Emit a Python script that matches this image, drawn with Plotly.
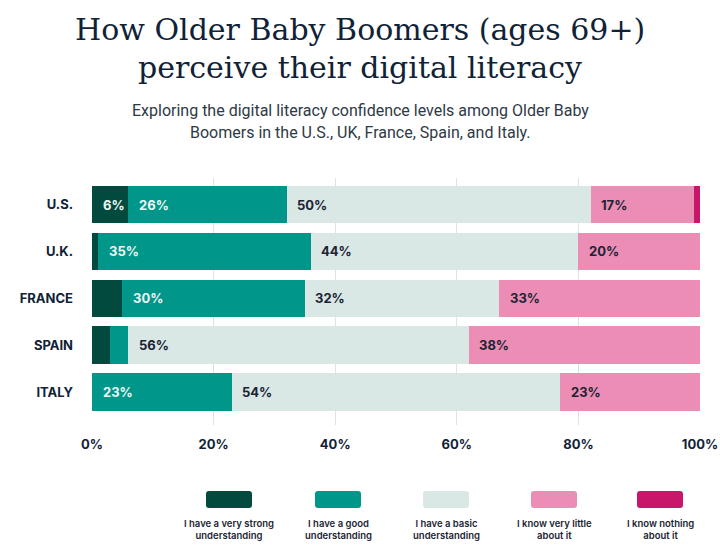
import plotly.graph_objects as go

countries = ["U.S.", "U.K.", "FRANCE", "SPAIN", "ITALY"]
series_names = [
    "I have a very strong<br>understanding",
    "I have a good<br>understanding",
    "I have a basic<br>understanding",
    "I know very little<br>about it",
    "I know nothing<br>about it",
]
very_strong = [6, 1, 5, 3, 0]
good = [26, 35, 30, 3, 23]
basic = [50, 44, 32, 56, 54]
very_little = [17, 20, 33, 38, 23]
nothing = [1, 0, 0, 0, 0]
tick_vals = [0, 20, 40, 60, 80, 100]
tick_text = ["0%", "20%", "40%", "60%", "80%", "100%"]

series = [very_strong, good, basic, very_little, nothing]
colors = ["#034a3e", "#00968a", "#d9e7e5", "#ec8db5", "#c8176a"]
label_colors = ["#eef6f4", "#eef6f4", "#1b2433", "#1b2433", "#ffffff"]

NAVY = "#0f2236"
SANS = "Inter"

W, H = 720, 551

fig = go.Figure()
for name, vals, col in zip(series_names, series, colors):
    fig.add_trace(go.Bar(
        y=countries, x=vals, name=name, orientation="h",
        marker=dict(color=col, line=dict(width=0)),
        width=0.8, showlegend=False, hoverinfo="x+y",
    ))

# page-pixel -> paper helpers (plot area 92..700 x, 178..425 y)
L, R, T, B = 92, 700, 178, 425
def px(x):
    return (x - L) / (R - L)
def py(y):
    return (B - y) / (B - T)

annotations = []
for si, vals in enumerate(series):
    for ci, v in enumerate(vals):
        start = sum(series[k][ci] for k in range(si))
        if v >= 6:
            annotations.append(dict(
                x=start + 1.4, y=countries[ci], xref="x", yref="y",
                text=f"{v}%", showarrow=False, xanchor="left", yanchor="middle",
                font=dict(family=SANS, size=13, color=label_colors[si], weight=700),
            ))

TITLE_FONT = dict(family="DejaVu Serif", size=30, color=NAVY)
annotations.append(dict(x=px(360), y=py(29), xref="paper", yref="paper", xanchor="center", yanchor="middle",
                        text="How Older Baby Boomers (ages 69+)", showarrow=False, font=TITLE_FONT))
annotations.append(dict(x=px(360), y=py(67), xref="paper", yref="paper", xanchor="center", yanchor="middle",
                        text="perceive their digital literacy", showarrow=False, font=TITLE_FONT))
SUB_FONT = dict(family="Roboto", size=16, color="#2e3945")
annotations.append(dict(x=px(360), y=py(110), xref="paper", yref="paper", xanchor="center", yanchor="middle",
                        text="Exploring the digital literacy confidence levels among Older Baby", showarrow=False,
                        font=SUB_FONT))
annotations.append(dict(x=px(360), y=py(132), xref="paper", yref="paper", xanchor="center", yanchor="middle",
                        text="Boomers in the U.S., UK, France, Spain, and Italy.", showarrow=False,
                        font=SUB_FONT))

def rounded_rect(x0p, x1p, y0p, y1p, r=3):
    a, b = px(x0p), px(x1p)
    top, bot = py(y0p), py(y1p)
    rx, ry = r / (R - L), r / (B - T)
    return (f"M{a+rx},{top} L{b-rx},{top} Q{b},{top} {b},{top-ry} "
            f"L{b},{bot+ry} Q{b},{bot} {b-rx},{bot} "
            f"L{a+rx},{bot} Q{a},{bot} {a},{bot+ry} "
            f"L{a},{top-ry} Q{a},{top} {a+rx},{top} Z")

legend_centers = [229, 338, 446, 554, 660]
shapes = []
for cx, col, name in zip(legend_centers, colors, series_names):
    shapes.append(dict(type="path", xref="paper", yref="paper",
                       path=rounded_rect(cx - 23, cx + 23, 491, 508),
                       fillcolor=col, line=dict(width=0), layer="above"))
    annotations.append(dict(x=px(cx), y=py(529), xref="paper", yref="paper",
                            xanchor="center", yanchor="middle", text=name, showarrow=False,
                            font=dict(family=SANS, size=9.5, color="#1b2433", weight=600)))

fig.update_layout(
    width=W, height=H,
    barmode="stack",
    paper_bgcolor="white", plot_bgcolor="white",
    margin=dict(l=L, r=W - R, t=T, b=H - B, autoexpand=False),
    annotations=annotations, shapes=shapes,
    bargap=0.2,
)
fig.update_xaxes(range=[0, 100], tickvals=tick_vals, ticktext=tick_text,
                 showgrid=True, gridcolor="#e2e2e2", gridwidth=1, zeroline=False,
                 showline=False, ticks="", ticklabelstandoff=10, automargin=False,
                 tickfont=dict(family=SANS, size=13, color=NAVY, weight=700))
fig.update_yaxes(range=[4.70, -0.565], showgrid=False, zeroline=False, showline=False,
                 ticks="", ticklabelstandoff=18, automargin=False,
                 tickfont=dict(family=SANS, size=13, color=NAVY, weight=700))

fig.write_html("out.html",
               config={"displayModeBar": False},
               post_script="document.body.style.margin='0';document.body.style.overflow='hidden';")
